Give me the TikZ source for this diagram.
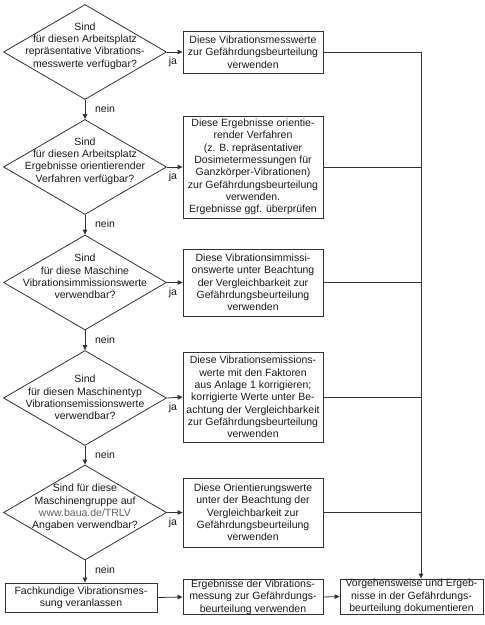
\documentclass[tikz,border=0pt]{standalone}
\usepackage{fontspec}
\setmainfont{Liberation Sans}
\usetikzlibrary{shapes.geometric,arrows.meta}
\definecolor{ink}{HTML}{1A1A1A}
\definecolor{linec}{HTML}{333333}
\definecolor{linkc}{HTML}{606060}
\begin{document}
\begin{tikzpicture}[x=1pt,y=-1pt,
  font=\fontsize{10.5}{12.3}\selectfont, text=ink,
  dia/.style={diamond,draw=linec,line width=0.8pt,minimum width=163pt,minimum height=95pt,inner sep=0pt},
  dtext/.style={align=center,inner sep=0pt},
  box/.style={draw=linec,line width=0.8pt,align=center,inner sep=0pt,minimum width=140pt},
  conn/.style={draw=linec,line width=0.8pt},
  arr/.style={conn,-{Triangle[length=5pt,width=4.5pt]}},
  lab/.style={inner sep=0pt}]
\useasboundingbox (0,0) rectangle (485,625);

% diamonds
\node[dia] (d1) at (85,52) {};
\node[dtext] (t1) at (85,46) {Sind\\für diesen Arbeitsplatz\\repräsentative Vibrations-\\messwerte verfügbar?};
\node[dia] (d2) at (85,167) {};
\node[dtext] (t2) at (85,161) {Sind\\für diesen Arbeitsplatz\\Ergebnisse orientierender\\Verfahren verfügbar?};
\node[dia] (d3) at (85,282.5) {};
\node[dtext] (t3) at (85,276.5) {Sind\\für diese Maschine\\Vibrationsimmissionswerte\\verwendbar?};
\node[dia] (d4) at (85,398) {};
\node[dtext] (t4) at (85,397.5) {Sind\\für diesen Maschinentyp\\Vibrationsemissionswerte\\verwendbar?};
\node[dia] (d5) at (85,512.5) {};
\node[dtext] (t5) at (85,507.5) {Sind für diese\\Maschinengruppe auf\\\textcolor{linkc}{www.baua.de/TRLV}\\Angaben verwendbar?};

% boxes
\node[box,minimum height=42pt] (b1) at (253,52) {Diese Vibrationsmesswerte\\zur Gefährdungsbeurteilung\\verwenden};
\node[box,minimum height=102pt] (b2) at (253,167) {Diese Ergebnisse orientie-\\render Verfahren\\(z. B. repräsentativer\\Dosimetermessungen für\\Ganzkörper-Vibrationen)\\zur Gefährdungsbeurteilung\\verwenden.\\Ergebnisse ggf. überprüfen};
\node[box,minimum height=67pt] (b3) at (253,282.5) {Diese Vibrationsimmissi-\\onswerte unter Beachtung\\der Vergleichbarkeit zur\\Gefährdungsbeurteilung\\verwenden};
\node[box,minimum height=90pt] (b4) at (253,397) {Diese Vibrationsemissions-\\werte mit den Faktoren\\aus Anlage 1 korrigieren;\\korrigierte Werte unter Be-\\achtung der Vergleichbarkeit\\zur Gefährdungsbeurteilung\\verwenden};
\node[box,minimum height=69pt] (b5) at (253,512.5) {Diese Orientierungswerte\\unter der Beachtung der\\Vergleichbarkeit zur\\Gefährdungsbeurteilung\\verwenden};
\node[box,minimum width=152pt,minimum height=29pt] (b6) at (81,597.5) {Fachkundige Vibrationsmes-\\sung veranlassen};
\node[box,minimum height=34pt] (b7) at (253,597) {Ergebnisse der Vibrations-\\messung zur Gefährdungs-\\beurteilung verwenden};
\node[box,minimum width=143pt,minimum height=35pt] (b8) at (411.5,596.5) {Vorgehensweise und Ergeb-\\nisse in der Gefährdungs-\\beurteilung dokumentieren};

% ja arrows
\foreach \i in {1,...,5}{
  \draw[arr] (d\i.east) -- (b\i.west);
  \node[lab] at ([shift={(6,10)}]d\i.east) {ja};
}
% nein arrows
\draw[arr] (d1.south) -- (d2.north);
\draw[arr] (d2.south) -- (d3.north);
\draw[arr] (d3.south) -- (d4.north);
\draw[arr] (d4.south) -- (d5.north);
\draw[arr] (d5.south) -- (d5.south |- b6.north);
\foreach \i in {1,...,5}{
  \node[lab] at ([shift={(20,9)}]d\i.south) {nein};
}

% collector
\coordinate (vtop) at (421,52);
\draw[arr] (b1.east) -- (vtop) -- (vtop |- b8.north);
\draw[conn] (b2.east) -- (b2.east -| vtop);
\draw[conn] (b3.east) -- (b3.east -| vtop);
\draw[conn] (b4.east) -- (b4.east -| vtop);
\draw[conn] (b5.east) -- (b5.east -| vtop);

% bottom row
\draw[arr] (b6.east) -- (b7.west);
\draw[arr] (b7.east) -- (b8.west);
\end{tikzpicture}
\end{document}
